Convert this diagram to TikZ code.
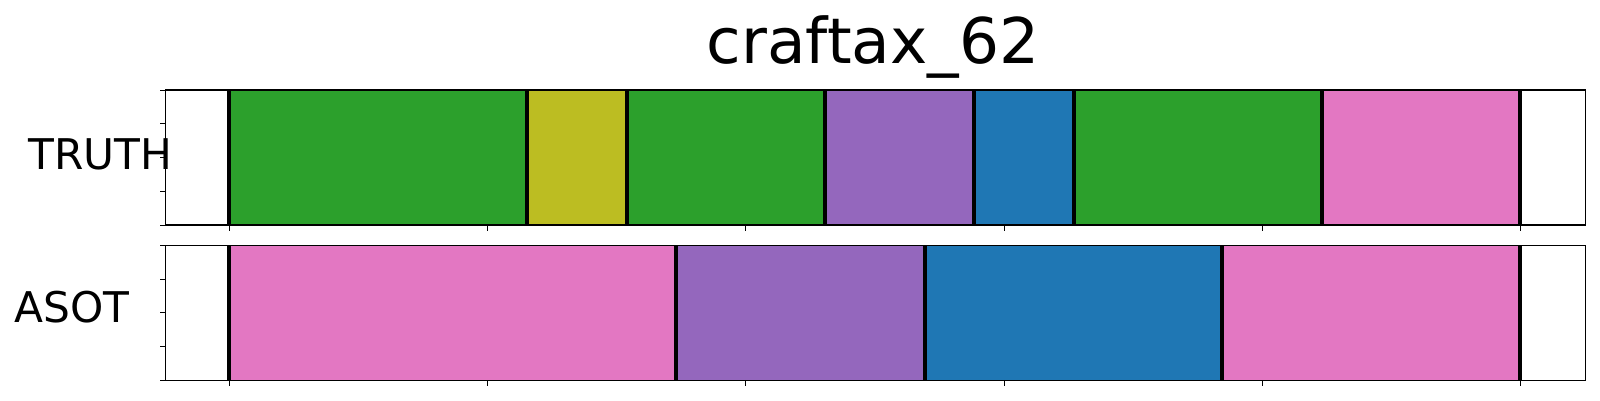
\documentclass[tikz,border=0pt]{standalone}
\usepackage{fontspec}
\setmainfont{DejaVu Sans}
\definecolor{tabgreen}{HTML}{2CA02C}
\definecolor{tabolive}{HTML}{BCBD22}
\definecolor{tabpurple}{HTML}{9467BD}
\definecolor{tabblue}{HTML}{1F77B4}
\definecolor{tabpink}{HTML}{E377C2}
\tikzset{
  frame/.style={draw=black, line width=1.3pt},
  sep/.style={draw=black, line width=4pt},
  tick/.style={draw=black, line width=1pt},
  lbl/.style={inner sep=0pt, anchor=base west, font=\fontsize{42.3}{50}\selectfont},
}
\begin{document}
\begin{tikzpicture}[x=1pt,y=-1pt]
\useasboundingbox (0,0) rectangle (1600,400);
% title
\node[inner sep=0pt, anchor=base, font=\fontsize{63}{70}\selectfont] (title) at (873,63) {craftax\_62};
% labels
\node[lbl] (truth) at (28.5,169.3) {TRUTH};
\node[lbl] (asot) at (14.5,322.7) {ASOT};
% top row segments
\foreach \a/\b/\c in {229/527/tabgreen, 527/627/tabolive, 627/824.7/tabgreen, 824.7/974/tabpurple, 974/1074/tabblue, 1074/1322/tabgreen, 1322/1520/tabpink}
  \fill[\c] (\a,90) rectangle (\b,225);
\foreach \x in {229,527,627,824.7,974,1074,1322,1520}
  \draw[sep] (\x,90) -- (\x,225);
% bottom row segments
\foreach \a/\b/\c in {229/675.5/tabpink, 675.5/925/tabpurple, 925/1222/tabblue, 1222/1520/tabpink}
  \fill[\c] (\a,245.3) rectangle (\b,380.3);
\foreach \x in {229,675.5,925,1222,1520}
  \draw[sep] (\x,245.3) -- (\x,380.3);
% frames
\draw[frame] (165.3,90) rectangle (1585.7,225);
\draw[frame] (165.3,245.3) rectangle (1585.7,380.3);
% ticks
\foreach \k in {0,...,5} {
  \draw[tick] ({229.3+258.3*\k},225) -- ({229.3+258.3*\k},230.5);
  \draw[tick] ({229.3+258.3*\k},380.3) -- ({229.3+258.3*\k},385.8);
}
\foreach \k in {0,...,4} {
  \draw[tick] (165.3,{90+33.75*\k}) -- (160,{90+33.75*\k});
  \draw[tick] (165.3,{245.3+33.75*\k}) -- (160,{245.3+33.75*\k});
}
\end{tikzpicture}
\end{document}
